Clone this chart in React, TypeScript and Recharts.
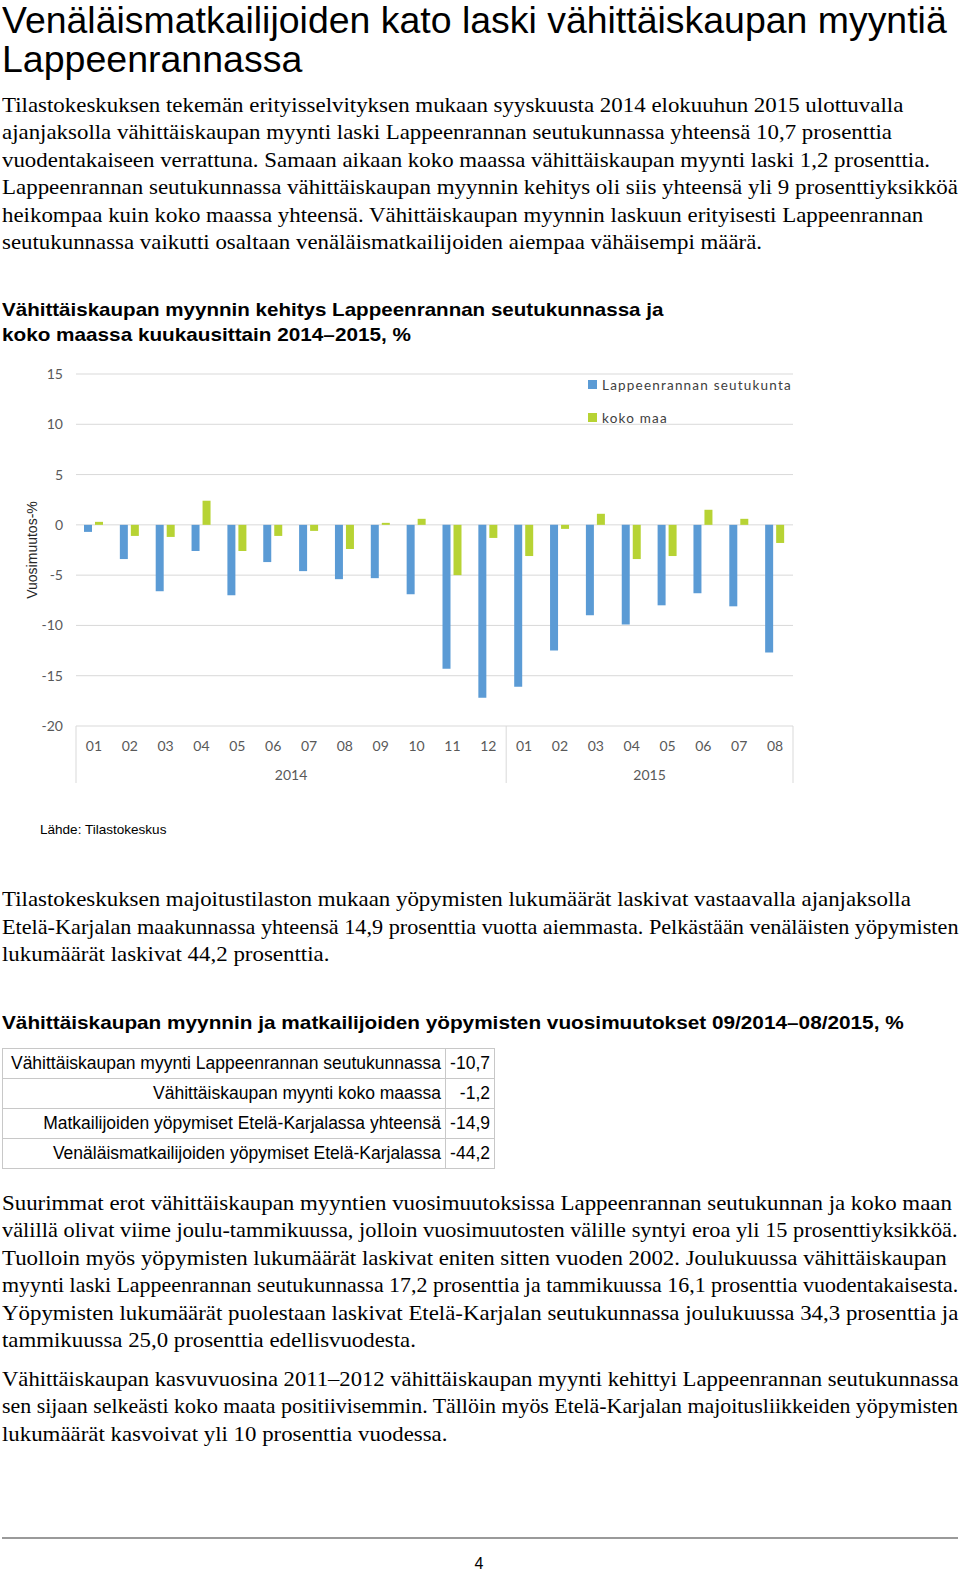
import React, { useLayoutEffect, useRef, useState } from "react";
import { BarChart, Bar, XAxis, YAxis, CartesianGrid, Legend } from "recharts";

// Kuukaudet ja vuodet (09/2014 - 08/2015 jakso sisältyy)
const months = ["01", "02", "03", "04", "05", "06", "07", "08", "09", "10", "11", "12", "01", "02", "03", "04", "05", "06", "07", "08"];
const years = ["2014", "2014", "2014", "2014", "2014", "2014", "2014", "2014", "2014", "2014", "2014", "2014", "2015", "2015", "2015", "2015", "2015", "2015", "2015", "2015"];
const lappeenranta = [-0.7, -3.4, -6.6, -2.6, -7.0, -3.7, -4.6, -5.4, -5.3, -6.9, -14.3, -17.2, -16.1, -12.5, -9.0, -9.9, -8.0, -6.8, -8.1, -12.7];
const kokoMaa = [0.3, -1.1, -1.2, 2.4, -2.6, -1.1, -0.6, -2.4, 0.2, 0.6, -5.0, -1.3, -3.1, -0.4, 1.1, -3.4, -3.1, 1.5, 0.6, -1.8];
const yTicks = [-20, -15, -10, -5, 0, 5, 10, 15];
const seriesNames = ["Lappeenrannan seutukunta", "koko maa"];

const tableLabels = [
  "Vähittäiskaupan myynti Lappeenrannan seutukunnassa",
  "Vähittäiskaupan myynti koko maassa",
  "Matkailijoiden yöpymiset Etelä-Karjalassa yhteensä",
  "Venäläismatkailijoiden yöpymiset Etelä-Karjalassa",
];
const tableValues = ["-10,7", "-1,2", "-14,9", "-44,2"];

const data = months.map((m, i) => ({
  month: m,
  year: years[i],
  lapp: lappeenranta[i],
  koko: kokoMaa[i],
}));

// chart layout
const CH_W = 780;
const CH_H = 430;
const MARGIN = { top: 14, right: 7, bottom: 6, left: 0 };
const Y_W = 56;
const X_H = 58;
const BAND = (CH_W - MARGIN.left - MARGIN.right - Y_W) / months.length;

const SANS = '"Liberation Sans", Arial, sans-serif';
const SERIF = '"Liberation Serif", "Times New Roman", serif';
const TICK_FONT = "Lato, sans-serif";

// yksi tekstirivi, venytetään annettuun leveyteen
const FitLine = ({ text, x, right, cy, size, family, weight = 400, lh }: any) => {
  const ref = useRef<HTMLDivElement>(null);
  const [s, setS] = useState(1);
  const w = right - x;
  useLayoutEffect(() => {
    const el = ref.current;
    if (el && el.offsetWidth > 0) setS(w / el.offsetWidth);
  }, [text, w]);
  return (
    <div
      ref={ref}
      style={{
        position: "absolute",
        left: x,
        top: cy - lh / 2,
        whiteSpace: "nowrap",
        fontSize: size,
        fontFamily: family,
        fontWeight: weight,
        lineHeight: lh + "px",
        color: "#000",
        transform: `scaleX(${s})`,
        transformOrigin: "left center",
      }}
    >
      {text}
    </div>
  );
};

const Para = ({ lines, size = 21, family = SERIF, weight = 400, lh = 26 }: any) => (
  <>
    {lines.map(([t, r, y]: any, i: number) => (
      <FitLine key={i} text={t} x={2} right={r} cy={y} size={size} family={family} weight={weight} lh={lh} />
    ))}
  </>
);

const yearGroups = years.reduce((acc: any[], y, i) => {
  const last = acc[acc.length - 1];
  if (last && last.year === y) last.count++;
  else acc.push({ year: y, start: i, count: 1 });
  return acc;
}, []);

const MonthTick = (props: any) => {
  const { x, y, payload } = props;
  const i = payload.index;
  const half = BAND / 2;
  const parts: React.ReactNode[] = [];
  parts.push(
    <text key="m" x={x} y={y + 20} dy="0.35em" textAnchor="middle" fill="#595959" fontSize={14} fontFamily={TICK_FONT}>
      {payload.value}
    </text>
  );
  if (i === 0) {
    parts.push(<line key="l0" x1={x - half} x2={x - half} y1={y} y2={y + 57} stroke="#d9d9d9" />);
  }
  yearGroups.forEach((g) => {
    const mid = g.start + (g.count - 1) / 2;
    if (Math.floor(mid) === i) {
      parts.push(
        <text key={"y" + g.year} x={x + (mid - i) * BAND} y={y + 49} dy="0.35em" textAnchor="middle" fill="#595959" fontSize={14} fontFamily={TICK_FONT}>
          {g.year}
        </text>
      );
    }
    if (g.start + g.count - 1 === i) {
      parts.push(<line key={"s" + g.year} x1={x + half} x2={x + half} y1={y} y2={y + 57} stroke="#d9d9d9" />);
    }
  });
  return <g>{parts}</g>;
};

const YLabel = ({ viewBox }: any) => {
  const cx = viewBox.x + 12;
  const cy = viewBox.y + viewBox.height / 2;
  return (
    <text x={cx} y={cy} transform={`rotate(-90 ${cx} ${cy})`} textAnchor="middle" dy="0.35em" fontSize={14} fontFamily={SANS} fill="#262626">
      Vuosimuutos-%
    </text>
  );
};

const LegendContent = ({ payload }: any) => (
  <div>
    {(payload || []).map((p: any, i: number) => (
      <div key={i} style={{ display: "flex", alignItems: "center", height: 33 }}>
        <span style={{ width: 9, height: 9, background: p.color, marginRight: 5, display: "inline-block" }} />
        <span style={{ fontFamily: TICK_FONT, fontSize: 13.5, color: "#404040", letterSpacing: 1.2, whiteSpace: "nowrap" }}>{p.value}</span>
      </div>
    ))}
  </div>
);

export default function App() {
  return (
    <div style={{ position: "absolute", left: 0, top: 0, width: 960, height: 1572, background: "#fff", overflow: "hidden" }}>
      <Para
        size={37}
        family={SANS}
        lh={42}
        lines={[
          ["Venäläismatkailijoiden kato laski vähittäiskaupan myyntiä", 947, 21],
          ["Lappeenrannassa", 302, 60],
        ]}
      />
      <Para
        lines={[
          ["Tilastokeskuksen tekemän erityisselvityksen mukaan syyskuusta 2014 elokuuhun 2015 ulottuvalla", 903, 104.5],
          ["ajanjaksolla vähittäiskaupan myynti laski Lappeenrannan seutukunnassa yhteensä 10,7 prosenttia", 892, 132],
          ["vuodentakaiseen verrattuna. Samaan aikaan koko maassa vähittäiskaupan myynti laski 1,2 prosenttia.", 930, 159.5],
          ["Lappeenrannan seutukunnassa vähittäiskaupan myynnin kehitys oli siis yhteensä yli 9 prosenttiyksikköä", 958, 186.5],
          ["heikompaa kuin koko maassa yhteensä. Vähittäiskaupan myynnin laskuun erityisesti Lappeenrannan", 923, 214.5],
          ["seutukunnassa vaikutti osaltaan venäläismatkailijoiden aiempaa vähäisempi määrä.", 762, 242],
        ]}
      />
      <Para
        size={19}
        family={SANS}
        weight={700}
        lh={24}
        lines={[
          ["Vähittäiskaupan myynnin kehitys Lappeenrannan seutukunnassa ja", 663, 310],
          ["koko maassa kuukausittain 2014–2015, %", 411, 335],
        ]}
      />

      <div style={{ position: "absolute", left: 20, top: 360 }}>
        <BarChart width={CH_W} height={CH_H} data={data} margin={MARGIN} barGap={3}>
          <CartesianGrid vertical={false} stroke="#d9d9d9" />
          <XAxis
            dataKey="month"
            interval={0}
            axisLine={false}
            tickLine={false}
            tickSize={0}
            tickMargin={0}
            height={X_H}
            tick={<MonthTick />}
          />
          <YAxis
            domain={[-20, 15]}
            ticks={yTicks}
            width={Y_W}
            axisLine={false}
            tickLine={false}
            tickSize={0}
            tickMargin={13}
            tick={{ fill: "#595959", fontSize: 14, fontFamily: TICK_FONT }}
            label={{ content: <YLabel /> }}
          />
          <Legend
            layout="horizontal"
            verticalAlign="middle"
            align="center"
            content={<LegendContent />}
            wrapperStyle={{ left: 568, top: 8, width: 220 }}
          />
          <Bar dataKey="lapp" name={seriesNames[0]} fill="#5b9bd5" barSize={8} isAnimationActive={false} />
          <Bar dataKey="koko" name={seriesNames[1]} fill="#b7d334" barSize={8} isAnimationActive={false} />
        </BarChart>
      </div>

      <FitLine text="Lähde: Tilastokeskus" x={40} right={166} cy={830} size={13} family={SANS} lh={16} />

      <Para
        lines={[
          ["Tilastokeskuksen majoitustilaston mukaan yöpymisten lukumäärät laskivat vastaavalla ajanjaksolla", 911, 899],
          ["Etelä-Karjalan maakunnassa yhteensä 14,9 prosenttia vuotta aiemmasta. Pelkästään venäläisten yöpymisten", 958, 927],
          ["lukumäärät laskivat 44,2 prosenttia.", 329, 954],
        ]}
      />
      <Para
        size={19}
        family={SANS}
        weight={700}
        lh={24}
        lines={[["Vähittäiskaupan myynnin ja matkailijoiden yöpymisten vuosimuutokset 09/2014–08/2015, %", 904, 1023]]}
      />

      <table
        style={{
          position: "absolute",
          left: 2,
          top: 1048,
          width: 493,
          borderCollapse: "collapse",
          fontFamily: SANS,
          fontSize: 17.5,
          color: "#000",
        }}
      >
        <tbody>
          {tableLabels.map((l, i) => (
            <tr key={i} style={{ height: 30 }}>
              <td style={{ border: "1px solid #c8c8c8", textAlign: "right", padding: "0 4px 0 4px", whiteSpace: "nowrap", width: 434 }}>{l}</td>
              <td style={{ border: "1px solid #c8c8c8", textAlign: "right", padding: "0 4px 0 2px" }}>{tableValues[i]}</td>
            </tr>
          ))}
        </tbody>
      </table>

      <Para
        lines={[
          ["Suurimmat erot vähittäiskaupan myyntien vuosimuutoksissa Lappeenrannan seutukunnan ja koko maan", 952, 1203],
          ["välillä olivat viime joulu-tammikuussa, jolloin vuosimuutosten välille syntyi eroa yli 15 prosenttiyksikköä.", 958, 1230],
          ["Tuolloin myös yöpymisten lukumäärät laskivat eniten sitten vuoden 2002. Joulukuussa vähittäiskaupan", 947, 1258],
          ["myynti laski Lappeenrannan seutukunnassa 17,2 prosenttia ja tammikuussa 16,1 prosenttia vuodentakaisesta.", 958, 1285],
          ["Yöpymisten lukumäärät puolestaan laskivat Etelä-Karjalan seutukunnassa joulukuussa 34,3 prosenttia ja", 958, 1313],
          ["tammikuussa 25,0 prosenttia edellisvuodesta.", 416, 1340],
        ]}
      />
      <Para
        lines={[
          ["Vähittäiskaupan kasvuvuosina 2011–2012 vähittäiskaupan myynti kehittyi Lappeenrannan seutukunnassa", 958, 1379],
          ["sen sijaan selkeästi koko maata positiivisemmin. Tällöin myös Etelä-Karjalan majoitusliikkeiden yöpymisten", 958, 1406],
          ["lukumäärät kasvoivat yli 10 prosenttia vuodessa.", 447, 1434],
        ]}
      />

      <div style={{ position: "absolute", left: 2, top: 1537, width: 956, height: 2, background: "#9a9a9a" }} />
      <div
        style={{
          position: "absolute",
          left: 472,
          top: 1554,
          width: 14,
          textAlign: "center",
          fontFamily: SANS,
          fontSize: 16,
          lineHeight: "20px",
        }}
      >
        4
      </div>
    </div>
  );
}
